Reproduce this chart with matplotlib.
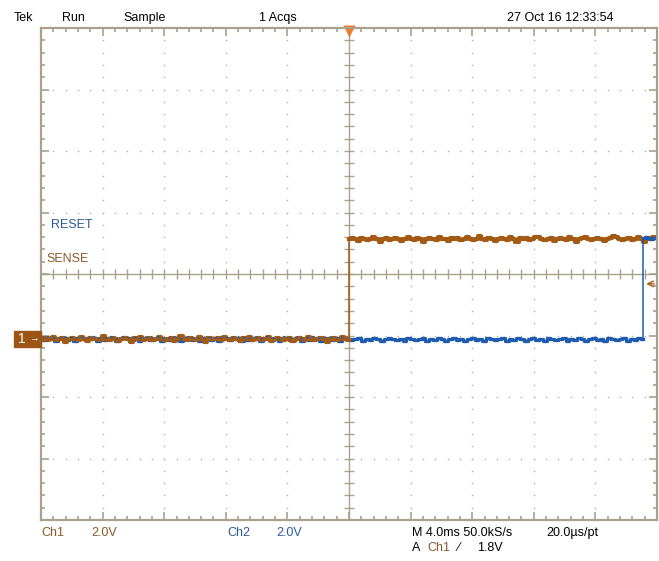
import numpy as np
import matplotlib.pyplot as plt
from matplotlib.patches import Rectangle

# scope settings
volts_per_div = 2.0
ms_per_div = 4.0
ch_offset_div = -1.06      # ground level of both channels, in divisions
sense_high = 3.25
reset_high = 3.30
sense_edge_ms = 0.0
reset_edge_ms = 19.1

# hand-read noise on the traces (V)
sense_low_noise = [0.00, 0.03, -0.03, 0.00, 0.06, -0.03, 0.00, 0.03, -0.10, 0.00,
                   0.03, 0.00, -0.03, 0.06, 0.00, -0.06, 0.03, 0.00, 0.00, -0.03,
                   0.10, 0.00, -0.03, 0.03, 0.00, -0.06, 0.00, 0.03, 0.00, -0.10,
                   0.03, 0.00, 0.06, -0.03, 0.00, 0.03, -0.03, 0.00, 0.06, 0.00,
                   -0.03, 0.00, 0.03, -0.06, 0.00, 0.10, 0.00, -0.03, 0.03, 0.00,
                   -0.03, 0.06, 0.00, -0.10, 0.03, 0.00, 0.00, 0.03, -0.03, 0.06,
                   0.00, -0.03, 0.03, 0.00, -0.06, 0.03, 0.00, 0.06, -0.03, 0.00,
                   0.03, -0.03, 0.00, 0.06, -0.06, 0.00, 0.03, 0.00, -0.03, 0.00,
                   0.03, -0.06, 0.00, 0.03, 0.00, -0.03, 0.06, 0.00, -0.03, 0.00,
                   0.03, 0.00, -0.10, 0.00, 0.03, -0.03, 0.00, 0.06, 0.00, -0.03]
sense_high_noise = [0.00, 0.03, 0.00, -0.06, 0.03, 0.00, -0.03, 0.00, 0.06, 0.00,
                    -0.10, 0.00, 0.03, -0.03, 0.00, 0.03, 0.00, -0.06, 0.00, 0.06,
                    0.00, -0.03, 0.03, 0.00, -0.10, 0.00, 0.03, 0.00, -0.03, 0.06,
                    0.00, 0.00, -0.06, 0.03, 0.00, 0.03, -0.03, 0.00, 0.06, 0.00,
                    -0.03, 0.00, 0.10, 0.00, -0.03, 0.03, 0.00, -0.06, 0.00, 0.03,
                    0.00, -0.03, 0.06, 0.00, -0.10, 0.03, 0.00, 0.03, -0.03, 0.00,
                    0.06, 0.06, 0.00, -0.03, 0.00, 0.03, -0.06, 0.00, 0.03, 0.00,
                    -0.03, 0.06, 0.00, -0.10, 0.00, 0.03, 0.06, 0.00, -0.03, 0.00,
                    0.03, 0.00, -0.06, 0.00, 0.03, 0.10, 0.06, 0.00, -0.03, 0.00,
                    0.03, -0.03, 0.00, 0.06, 0.00, -0.10, 0.03, 0.00, 0.06, 0.03]
reset_low_noise = [0.00, -0.03, 0.03, 0.00, -0.06, 0.00, 0.03, -0.03, 0.00, -0.06,
                   0.03, 0.00, -0.03, 0.00, 0.03, -0.06, 0.00, -0.03, 0.03, 0.00,
                   -0.06, 0.00, 0.03, 0.00, -0.03, 0.00, -0.06, 0.03, 0.00, -0.03,
                   0.00, 0.03, -0.06, 0.00, -0.03, 0.03, 0.00, -0.06, 0.00, 0.03,
                   -0.03, 0.00, -0.06, 0.00, 0.03, -0.03, 0.00, -0.06, 0.03, 0.00,
                   -0.03, 0.00, 0.03, -0.06, 0.00, -0.03, 0.03, 0.00, -0.06, 0.00,
                   0.03, -0.03, 0.00, -0.06, 0.03, 0.00, -0.03, 0.00, 0.03, -0.06,
                   0.00, -0.03, 0.03, 0.00, -0.06, 0.00, 0.03, -0.03, 0.00, -0.06,
                   0.03, 0.00, -0.03, 0.00, 0.03, -0.06, 0.00, -0.03, 0.03, 0.00,
                   -0.06, 0.00, 0.03, 0.00, -0.03, 0.00, -0.06, 0.03, 0.00, -0.03,
                   0.00, 0.03, -0.06, 0.00, -0.03, 0.03, 0.00, -0.06, 0.00, 0.03,
                   -0.03, 0.00, -0.06, 0.00, 0.03, -0.03, 0.00, -0.06, 0.03, 0.00,
                   -0.03, 0.00, 0.03, -0.06, 0.00, -0.03, 0.03, 0.00, -0.06, 0.00,
                   0.03, -0.03, 0.00, -0.06, 0.03, 0.00, -0.03, 0.00, 0.03, -0.06,
                   0.00, -0.03, 0.03, 0.00, -0.06, 0.00, 0.03, -0.03, 0.00, -0.06,
                   0.03, 0.00, -0.03, 0.00, 0.03, -0.06, 0.00, -0.03, 0.03, 0.00]
reset_high_noise = [0.00, 0.03, 0.00, -0.03, 0.00, 0.03]

ORANGE = '#A35A14'
BLUE = '#1F5CB0'
GRAT = '#A8A28C'
DOT = '#B0B0B0'
TXT_BROWN = '#8A5A28'
TXT_BLUE = '#2A5C96'

W, H = 659, 561


def to_div(t_ms, v):
    return np.asarray(t_ms) / ms_per_div + 5, np.asarray(v) / volts_per_div + ch_offset_div


fig = plt.figure(figsize=(W / 100, H / 100), dpi=100)
plt.rcParams['font.family'] = ['Liberation Sans', 'DejaVu Sans']
ax = fig.add_axes([41 / W, 41 / H, 616 / W, 492 / H])
ax.set_xlim(0, 10)
ax.set_ylim(-4, 4)

# graticule
for s in ax.spines.values():
    s.set_color(GRAT)
    s.set_linewidth(1.6)
ax.set_xticks(range(11))
ax.set_yticks(range(-4, 5))
ax.set_xticks(np.arange(0, 10.01, 0.2), minor=True)
ax.set_yticks(np.arange(-4, 4.01, 0.2), minor=True)
ax.tick_params(which='both', direction='in', top=True, right=True, color=GRAT,
               labelbottom=False, labelleft=False, width=1.2)
ax.tick_params(which='major', length=6)
ax.tick_params(which='minor', length=3)

minor_x = np.arange(0.2, 9.9, 0.2)
minor_y = np.arange(-3.8, 3.9, 0.2)
for gx in [1, 2, 3, 4, 6, 7, 8, 9]:
    ax.plot(np.full(len(minor_y), gx), minor_y, ls='none', marker='s', ms=1.0, color=DOT, mec='none')
for gy in [-3, -2, -1, 1, 2, 3]:
    ax.plot(minor_x, np.full(len(minor_x), gy), ls='none', marker='s', ms=1.0, color=DOT, mec='none')
ax.axhline(0, color=GRAT, lw=1.0)
ax.axvline(5, color=GRAT, lw=1.0)
ax.plot(minor_x, np.zeros(len(minor_x)), ls='none', marker='|', ms=7, mew=1.0, color=GRAT)
ax.plot(np.full(len(minor_y), 5), minor_y, ls='none', marker='_', ms=7, mew=1.0, color=GRAT)

# traces
t_sl = np.linspace(-20, sense_edge_ms, len(sense_low_noise))
t_sh = np.linspace(sense_edge_ms, 20, len(sense_high_noise))
v_sl = np.array(sense_low_noise)
v_sh = sense_high + np.array(sense_high_noise)

t_rl = np.linspace(-20, reset_edge_ms, len(reset_low_noise))
t_rh = np.linspace(reset_edge_ms, 20, len(reset_high_noise))
v_rl = np.array(reset_low_noise)
v_rh = reset_high + np.array(reset_high_noise)

# blue under orange on the left
x, y = to_div(t_rl, v_rl)
ax.plot(x, y, color=BLUE, lw=2.4, drawstyle='steps-mid')
# sense: flat parts thick, edge thin
x, y = to_div(t_sl, v_sl)
ax.plot(x, y, color=ORANGE, lw=3.0, drawstyle='steps-mid')
x, y = to_div(t_sh, v_sh)
ax.plot(x, y, color=ORANGE, lw=3.0, drawstyle='steps-mid')
x, y = to_div([sense_edge_ms, sense_edge_ms], [v_sl[-1], v_sh[0]])
ax.plot(x, y, color=ORANGE, lw=1.1)
# blue left part peeks over the orange
left = t_rl < sense_edge_ms
x, y = to_div(t_rl[left], v_rl[left] + 0.06)
ax.plot(x, y, color=BLUE, lw=1.0, ls=(0, (2, 2.5)))
# reset edge and high level
x, y = to_div([reset_edge_ms, reset_edge_ms], [v_rl[-1], v_rh[0]])
ax.plot(x, y, color=BLUE, lw=1.1)
x, y = to_div(t_rh, v_rh)
ax.plot(x, y, color=BLUE, lw=2.4, drawstyle='steps-mid')

# trigger position marker
ax.plot(5, 4 - 0.05, marker='v', ms=8, color='#F07A28', mec='none', clip_on=False)
# trigger level marker
trig_v = 1.8
ax.annotate('', xy=(9.78, trig_v / volts_per_div + ch_offset_div),
            xytext=(10.0, trig_v / volts_per_div + ch_offset_div),
            arrowprops=dict(arrowstyle='->', color=ORANGE, lw=1.0))


def ftext(px, py, s, size=9, **kw):
    fig.text(px / W, 1 - py / H, s, va='center', ha='left', fontsize=size, **kw)


ftext(14, 18, 'Tek')
ftext(62, 18, 'Run')
ftext(123, 18, 'Sample')
ftext(259, 18, '1 Acqs')
ftext(507, 18, '27 Oct 16 12:33:54')

ftext(51, 225, 'RESET', color=TXT_BLUE)
ftext(46, 259, 'SENSE', color=TXT_BROWN)

ftext(41, 533, 'Ch1', color=TXT_BROWN)
ftext(91, 533, '2.0V', color=TXT_BROWN)
ftext(227, 533, 'Ch2', color=TXT_BLUE)
ftext(276, 533, '2.0V', color=TXT_BLUE)
ftext(412, 533, 'M 4.0ms 50.0kS/s')
ftext(546, 533, '20.0\u00b5s/pt')
ftext(412, 548, 'A')
ftext(427, 548, 'Ch1', color=TXT_BROWN)
ftext(458, 548, '\u2215')
ftext(477, 548, '1.8V')

# channel 1 ground marker
fig.patches.append(Rectangle((14 / W, 1 - 347 / H), 27 / W, 16 / H, transform=fig.transFigure,
                             color='#9C5514', zorder=5))
ftext(18, 339, '1', size=10, color='white', zorder=6)
ftext(29, 338, '\u2192', size=7, color='white', zorder=6)

fig.savefig('out.png', dpi=100)
